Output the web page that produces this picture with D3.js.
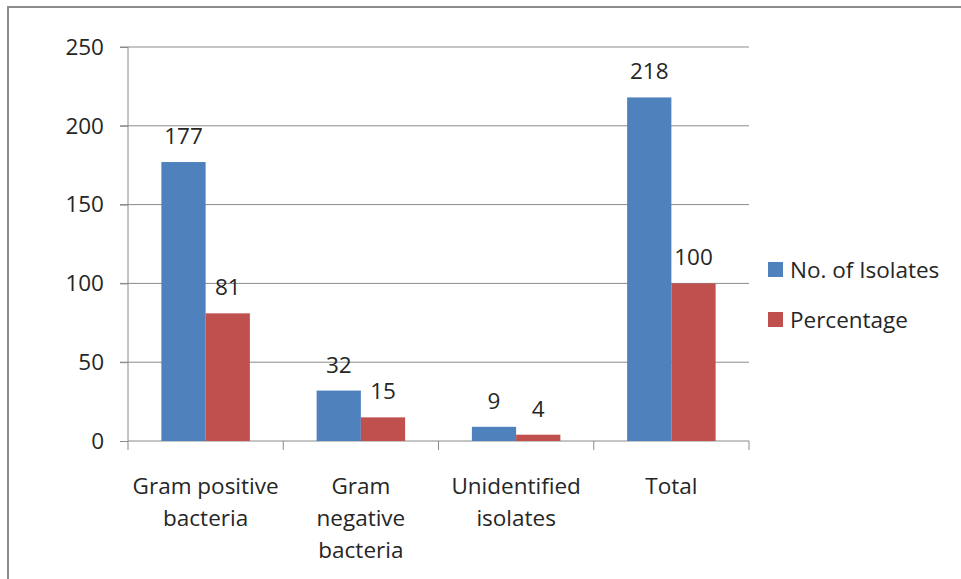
<!DOCTYPE html>
<html>
<head>
<meta charset="utf-8">
<script src="https://cdn.jsdelivr.net/npm/d3@7"></script>
<style>
  body { margin: 0; background: #fff; }
  svg { display: block; }
  text { font-family: 'Open Sans', Lato, sans-serif; fill: #262626; }
</style>
</head>
<body>
<div id="chart"></div>
<script>
// Data
const categories = ['Gram positive bacteria', 'Gram negative bacteria', 'Unidentified isolates', 'Total']
const categoryLines = [['Gram positive', 'bacteria'], ['Gram', 'negative', 'bacteria'], ['Unidentified', 'isolates'], ['Total']]
const seriesNames = ['No. of Isolates', 'Percentage']
const isolates = [177, 32, 9, 218]
const percentage = [81, 15, 4, 100]
const yTicks = [0, 50, 100, 150, 200, 250]

const colors = ['#4F81BD', '#C0504D']
const fontSize = '22.5px'
const width = 961
const height = 579
const margin = { top: 47, right: 212, bottom: 138, left: 128 }

const svg = d3.select('#chart').append('svg')
  .attr('width', width)
  .attr('height', height)

// Outer frame (only the top and left edges are visible in the picture)
svg.append('rect')
  .attr('x', 8)
  .attr('y', 7)
  .attr('width', width + 20)
  .attr('height', height + 20)
  .attr('fill', 'none')
  .attr('stroke', '#8c8c8c')
  .attr('stroke-width', 2)

const innerW = width - margin.left - margin.right
const innerH = height - margin.top - margin.bottom

const g = svg.append('g')
  .attr('transform', `translate(${margin.left}, ${margin.top})`)

const xScale = d3.scaleBand()
  .domain(categories)
  .range([0, innerW])
  .paddingInner(0.43)
  .paddingOuter(0.215)

const xSub = d3.scaleBand()
  .domain(seriesNames)
  .range([0, xScale.bandwidth()])

const yScale = d3.scaleLinear()
  .domain([0, 250])
  .range([innerH, 0])

// Gridlines
g.selectAll('.grid')
  .data(yTicks.slice(1))
  .join('line')
  .attr('class', 'grid')
  .attr('x1', -8)
  .attr('x2', innerW)
  .attr('y1', d => yScale(d))
  .attr('y2', d => yScale(d))
  .attr('stroke', '#8a8a8a')
  .attr('stroke-width', 1)

// Y axis
const yAxis = g.append('g')
  .call(d3.axisLeft(yScale).tickValues(yTicks).tickSize(8).tickPadding(16))
yAxis.selectAll('line, path').attr('stroke', '#8a8a8a')
yAxis.selectAll('text').style('font-size', fontSize).attr('fill', '#262626')
yAxis.select('.domain').attr('d', `M0,0V${innerH}`)

// X axis: ticks on category boundaries
const boundaries = d3.range(categories.length + 1).map(i => i * innerW / categories.length)
g.append('line')
  .attr('x1', 0)
  .attr('x2', innerW)
  .attr('y1', innerH)
  .attr('y2', innerH)
  .attr('stroke', '#8a8a8a')
g.selectAll('.xtick')
  .data(boundaries)
  .join('line')
  .attr('class', 'xtick')
  .attr('x1', d => d)
  .attr('x2', d => d)
  .attr('y1', innerH)
  .attr('y2', innerH + 9)
  .attr('stroke', '#8a8a8a')

// Category labels (multi-line)
categories.forEach((cat, i) => {
  const cx = xScale(cat) + xScale.bandwidth() / 2
  const t = g.append('text')
    .attr('text-anchor', 'middle')
    .style('font-size', fontSize)
  categoryLines[i].forEach((line, j) => {
    t.append('tspan')
      .attr('x', cx)
      .attr('y', innerH + 53 + j * 32)
      .text(line)
  })
})

// Bars
const series = [isolates, percentage]
series.forEach((values, s) => {
  const grp = g.append('g')
  grp.selectAll('rect')
    .data(values)
    .join('rect')
    .attr('x', (d, i) => xScale(categories[i]) + xSub(seriesNames[s]))
    .attr('y', d => yScale(d))
    .attr('width', xSub.bandwidth())
    .attr('height', d => innerH - yScale(d))
    .attr('fill', colors[s])
  grp.selectAll('text')
    .data(values)
    .join('text')
    .attr('x', (d, i) => xScale(categories[i]) + xSub(seriesNames[s]) + xSub.bandwidth() / 2)
    .attr('y', d => yScale(d) - 18)
    .attr('text-anchor', 'middle')
    .style('font-size', fontSize)
    .text(d => d)
})

// Legend
const legend = svg.append('g')
  .attr('transform', 'translate(768, 262)')
seriesNames.forEach((name, i) => {
  legend.append('rect')
    .attr('x', 0)
    .attr('y', i * 50)
    .attr('width', 15)
    .attr('height', 15)
    .attr('fill', colors[i])
  legend.append('text')
    .attr('x', 22)
    .attr('y', i * 50 + 16)
    .style('font-size', fontSize)
    .text(name)
})
</script>
</body>
</html>
